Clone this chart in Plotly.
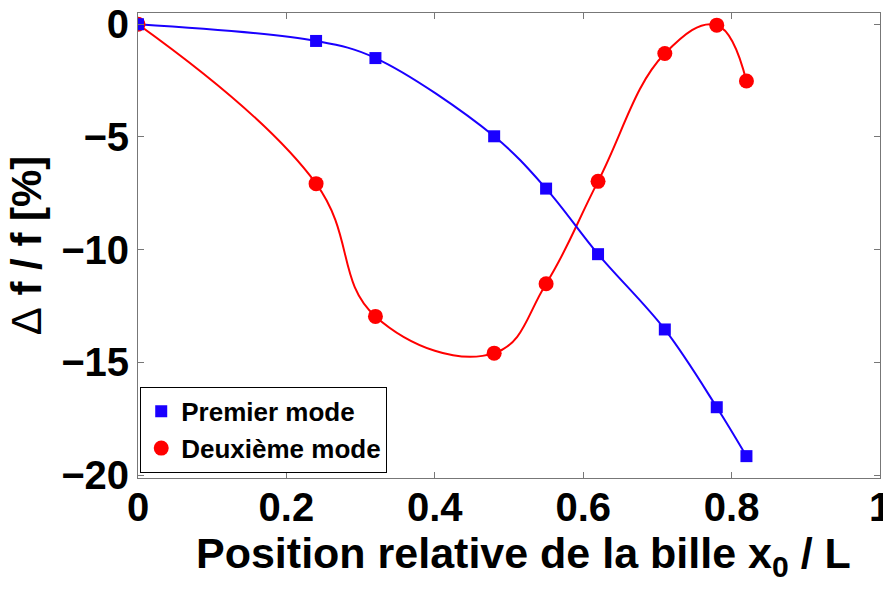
import plotly.graph_objects as go

# Data
x_premier = [0.0, 0.24, 0.32, 0.48, 0.55, 0.62, 0.71, 0.78, 0.82]
y_premier = [0.0, -0.74, -1.50, -4.97, -7.29, -10.2, -13.54, -16.99, -19.16]

x_deuxieme = [0.0, 0.24, 0.32, 0.48, 0.55, 0.62, 0.71, 0.78, 0.82]
y_deuxieme = [0.0, -7.07, -12.96, -14.59, -11.51, -6.97, -1.30, -0.04, -2.52]

x_ticks = [0, 0.2, 0.4, 0.6, 0.8, 1]
y_ticks = [0, -5, -10, -15, -20]

x_title = "Position relative de la bille x<sub>0</sub> / L"
y_title = "<span style=\"font-weight:normal\">Δ</span> f / f [%]"

BLUE = "#1a00ff"
RED = "#ff0000"
FONT = "Liberation Sans"

fig = go.Figure()

# fitted curves (library spline)
fig.add_trace(go.Scatter(x=x_deuxieme, y=y_deuxieme, mode="lines",
                         line=dict(color=RED, width=2, shape="spline", smoothing=1.2),
                         showlegend=False, hoverinfo="skip"))
fig.add_trace(go.Scatter(x=x_premier, y=y_premier, mode="lines",
                         line=dict(color=BLUE, width=2, shape="spline", smoothing=1.0),
                         showlegend=False, hoverinfo="skip"))
# markers
fig.add_trace(go.Scatter(x=x_deuxieme, y=y_deuxieme, mode="markers", name="Deuxième mode",
                         marker=dict(symbol="circle", size=15, color=RED), legendrank=2))
fig.add_trace(go.Scatter(x=x_premier, y=y_premier, mode="markers", name="Premier mode",
                         marker=dict(symbol="square", size=12, color=BLUE), legendrank=1))

axis_common = dict(
    showline=True, linecolor="#777777", linewidth=1, mirror="ticks",
    ticks="inside", ticklen=6, tickcolor="#777777",
    showgrid=False, zeroline=False, automargin=False,
    ticklabeloverflow="allow",
    tickfont=dict(family=FONT, size=40, color="black", weight=700),
)

fig.update_xaxes(range=[0, 1], tickvals=x_ticks, ticklabelstandoff=-6, **axis_common)
fig.update_yaxes(range=[-20.13, 0.5], tickvals=y_ticks,
                 title=dict(text=y_title,
                            font=dict(family=FONT, size=42, color="black", weight=700),
                            standoff=6),
                 **axis_common)

# x-axis title placed as an annotation (slightly right of centre, as in the reference)
fig.add_annotation(text=x_title, xref="paper", yref="paper",
                   x=0.5196, y=-0.168, xanchor="center", yanchor="middle",
                   showarrow=False,
                   font=dict(family=FONT, size=43, color="black", weight=700))

fig.update_layout(
    width=883, height=590,
    margin=dict(l=138, r=3, t=13, b=112),
    plot_bgcolor="white", paper_bgcolor="white",
    legend=dict(x=0.003, y=0.011, xanchor="left", yanchor="bottom",
                bgcolor="white", bordercolor="black", borderwidth=1,
                font=dict(family=FONT, size=26, color="black", weight=700),
                itemwidth=30, tracegroupgap=0),
)

fig.write_html("out.html", config={"displayModeBar": False},
               post_script="document.body.style.margin='0';document.body.style.overflow='hidden';")
